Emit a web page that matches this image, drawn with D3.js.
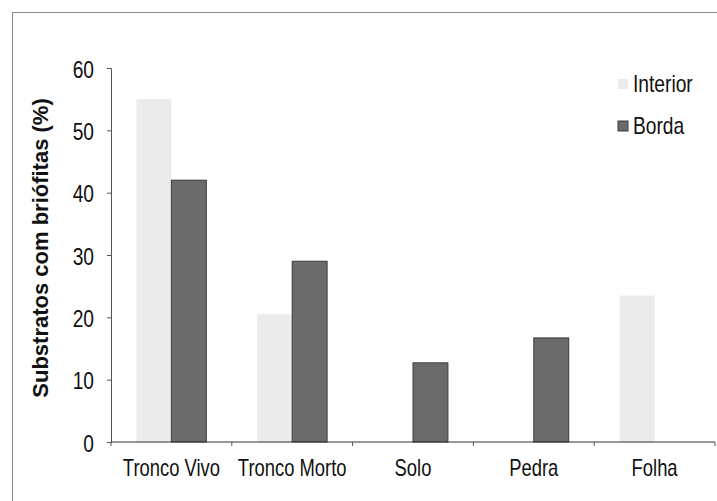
<!DOCTYPE html>
<html>
<head>
<meta charset="utf-8">
<script src="https://cdn.jsdelivr.net/npm/d3@7"></script>
<style>
  html, body { margin: 0; padding: 0; background: #fff; }
  svg { display: block; }
</style>
</head>
<body>
<svg id="chart" width="717" height="501"></svg>
<script>
// Substrate categories and the share of each colonised by bryophytes (%)
const categories = ["Tronco Vivo", "Tronco Morto", "Solo", "Pedra", "Folha"];
const seriesNames = ["Interior", "Borda"];
const interiorValues = [55, 20.5, 0, 0, 23.5];
const bordaValues = [42, 29, 12.7, 16.7, 0];
const yTicks = [0, 10, 20, 30, 40, 50, 60];
const seriesColors = ["#ebebeb", "#6b6b6b"];
const seriesStrokes = ["none", "#3a3a3a"];

const rows = categories.map((c, i) => ({
  category: c,
  values: [
    { series: seriesNames[0], value: interiorValues[i] },
    { series: seriesNames[1], value: bordaValues[i] }
  ]
}));

const svg = d3.select("#chart");
const fontSans = '"Liberation Sans", Arial, sans-serif';
const squeeze = 0.8; // horizontal compression for the condensed label face

// place a condensed label at (x, y)
function narrowText(parent, x, y, str, size, anchor) {
  return parent.append("text")
    .attr("transform", `translate(${x},${y}) scale(${squeeze},1)`)
    .attr("text-anchor", anchor)
    .attr("font-family", fontSans).attr("font-size", size).attr("fill", "#111")
    .text(str);
}

// outer frame (top and left edges)
svg.append("line").attr("x1", 12).attr("y1", 12.5).attr("x2", 717).attr("y2", 12.5)
  .attr("stroke", "#8a8a8a").attr("stroke-width", 1);
svg.append("line").attr("x1", 12.5).attr("y1", 12).attr("x2", 12.5).attr("y2", 501)
  .attr("stroke", "#8a8a8a").attr("stroke-width", 1);

const plot = { left: 111, right: 715, top: 68, bottom: 442 };

const x0 = d3.scaleBand().domain(categories).range([plot.left, plot.right]).padding(0);
const x1 = d3.scaleBand().domain(seriesNames).range([0, x0.bandwidth()])
  .paddingInner(0).paddingOuter(0.73);
const y = d3.scaleLinear().domain([0, 60]).range([plot.bottom, plot.top]);
const color = d3.scaleOrdinal().domain(seriesNames).range(seriesColors);
const stroke = d3.scaleOrdinal().domain(seriesNames).range(seriesStrokes);

// bars
const groups = svg.append("g").selectAll("g").data(rows).join("g")
  .attr("transform", d => `translate(${x0(d.category)},0)`);
groups.selectAll("rect").data(d => d.values.filter(v => v.value > 0)).join("rect")
  .attr("x", d => x1(d.series))
  .attr("width", x1.bandwidth())
  .attr("y", d => y(d.value))
  .attr("height", d => y(0) - y(d.value))
  .attr("fill", d => color(d.series))
  .attr("stroke", d => stroke(d.series))
  .attr("stroke-width", 1);

// y axis
const yAxis = svg.append("g").attr("transform", `translate(${plot.left},0)`)
  .call(d3.axisLeft(y).tickValues(yTicks).tickSize(4));
yAxis.select(".domain").attr("stroke", "#555");
yAxis.selectAll(".tick line").attr("stroke", "#555");
yAxis.selectAll(".tick text").remove();
yAxis.selectAll(".tick").each(function (d) {
  narrowText(d3.select(this), -17, 9, d, 24, "end");
});

// x axis: ticks at the category boundaries
const xAxis = svg.append("g").attr("transform", `translate(0,${plot.bottom})`);
xAxis.append("line").attr("x1", plot.left).attr("x2", plot.right)
  .attr("stroke", "#333").attr("stroke-width", 1.2);
const boundaries = categories.map(c => x0(c)).concat([plot.right]);
xAxis.selectAll(".bt").data(boundaries).join("line").attr("class", "bt")
  .attr("x1", d => d).attr("x2", d => d).attr("y1", 0).attr("y2", 4)
  .attr("stroke", "#555");
categories.forEach(c => {
  narrowText(xAxis, x0(c) + x0.bandwidth() / 2, 34, c, 23, "middle");
});

// y axis title
svg.append("text")
  .attr("transform", "translate(48,248) rotate(-90)")
  .attr("text-anchor", "middle")
  .attr("font-family", fontSans)
  .attr("font-weight", "bold").attr("font-size", 22).attr("fill", "#111")
  .text("Substratos com briófitas (%)");

// legend
const legend = svg.append("g").selectAll("g").data(seriesNames).join("g")
  .attr("transform", (d, i) => `translate(618,${79 + i * 42})`);
legend.append("rect").attr("width", 10).attr("height", 10)
  .attr("fill", d => color(d)).attr("stroke", d => stroke(d));
legend.each(function (d) {
  narrowText(d3.select(this), 15, 13, d, 24, "start");
});
</script>
</body>
</html>
